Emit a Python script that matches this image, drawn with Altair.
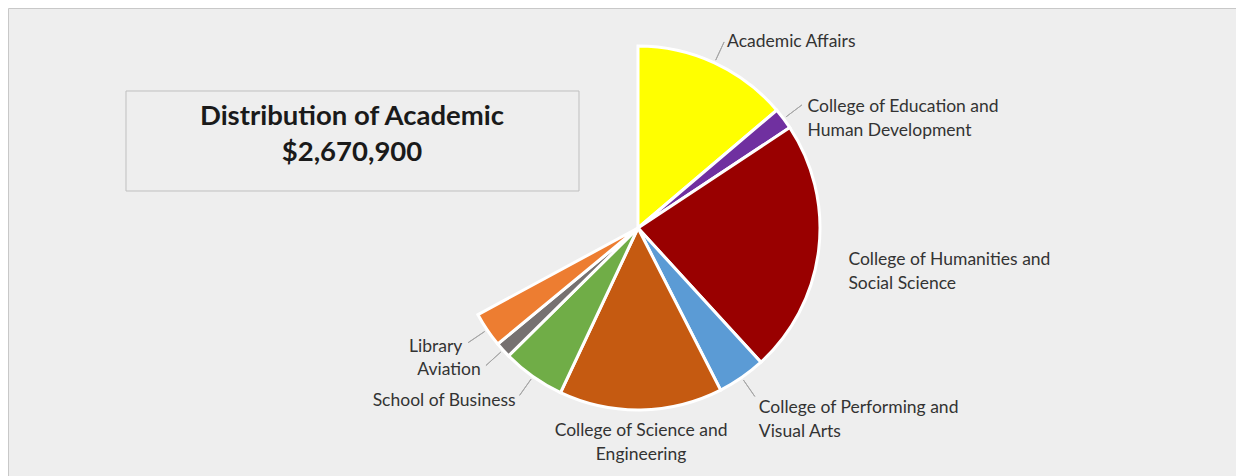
import altair as alt
import pandas as pd

# ---- data ----
categories = [
    "Academic Affairs",
    "College of Education and Human Development",
    "College of Humanities and Social Science",
    "College of Performing and Visual Arts",
    "College of Science and Engineering",
    "School of Business",
    "Aviation",
    "Library",
]
labels = [
    "Academic Affairs",
    "College of Education and\nHuman Development",
    "College of Humanities and\nSocial Science",
    "College of Performing and\nVisual Arts",
    "College of Science and\nEngineering",
    "School of Business",
    "Aviation",
    "Library",
]
# share of the full circle (percent); the chart leaves the rest of the circle empty
shares = [13.8, 1.9, 22.5, 4.3, 14.5, 5.6, 1.4, 3.1]
title_lines = ["Distribution of Academic", "$2,670,900"]

# ---- styles ----
palette = ["#FFFF00", "#7030A0", "#990000", "#5B9BD5", "#C55A11", "#70AD47", "#767171", "#ED7D31"]
FONT = "Lato"
CX, CY = 630, 220  # pie centre inside the plot area

df = pd.DataFrame({
    "category": categories,
    "label": labels,
    "share": shares,
    "order": list(range(len(categories))),
})

theta_scale = alt.Scale(domain=[0, 100])

base = (
    alt.Chart(df)
    .transform_window(cum="sum(share)", sort=[alt.SortField("order")], frame=[None, 0])
    .transform_calculate(start="datum.cum - datum.share", mid="datum.cum - datum.share / 2")
)

pie = base.mark_arc(outerRadius=182, stroke="white", strokeWidth=3).encode(
    theta=alt.Theta("start:Q", scale=theta_scale, stack=None),
    theta2="cum:Q",
    color=alt.Color("category:N", scale=alt.Scale(domain=categories, range=palette), legend=None),
    order=alt.Order("order:Q"),
    x=alt.value(CX),
    y=alt.value(CY),
)

# leader lines only where the label sits away from the slice (as in the reference)
leaders = base.transform_filter(
    "(datum.mid < 45 || datum.mid > 55) && datum.share < 20"
).mark_arc(fillOpacity=0, stroke="#a6a6a6", strokeWidth=1).encode(
    theta=alt.Theta("mid:Q", scale=theta_scale, stack=None),
    theta2="mid:Q",
    radius=alt.value(205),
    radius2=alt.value(185),
    x=alt.value(CX),
    y=alt.value(CY),
)


def text_layer(expr, align, baseline, r, dy=0):
    return base.transform_filter(expr).mark_text(
        align=align, baseline=baseline, font=FONT, fontSize=17.5, color="#333333",
        lineBreak="\n", lineHeight=24, radius=r, dy=dy,
    ).encode(
        theta=alt.Theta("mid:Q", scale=theta_scale, stack=None),
        text="label:N",
        x=alt.value(CX),
        y=alt.value(CY),
    )


right_labels = text_layer("datum.mid < 45", "left", "middle", 212, dy=6)
bottom_labels = text_layer("datum.mid >= 45 && datum.mid <= 55", "center", "top", 194)
left_labels = text_layer("datum.mid > 55", "right", "middle", 212)

title_df = pd.DataFrame({"title": ["\n".join(title_lines)]})
title_box = alt.Chart(title_df).mark_rect(fillOpacity=0, stroke="#bfbfbf", strokeWidth=1).encode(
    x=alt.value(118), x2=alt.value(571), y=alt.value(83), y2=alt.value(183)
)
title_text = alt.Chart(title_df).mark_text(
    font=FONT, fontSize=27.5, fontWeight="bold", color="#1a1a1a",
    lineBreak="\n", lineHeight=36, align="center", baseline="middle",
).encode(text="title:N", x=alt.value(344), y=alt.value(109))

chart = (
    alt.layer(title_box, title_text, pie, leaders, right_labels, bottom_labels, left_labels)
    .properties(width=1228, height=470, padding=0)
    .configure_view(fill="#eeeeee", stroke="#c8c8c8")
)

chart.save("out.html", embed_options={"renderer": "svg", "actions": False})
